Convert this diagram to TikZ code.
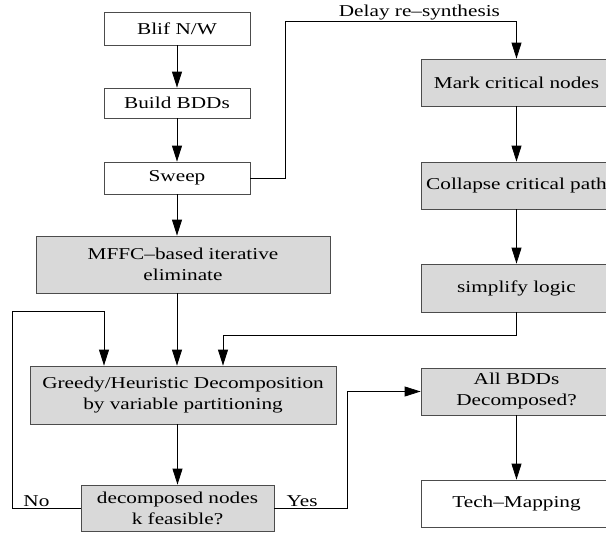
\documentclass[tikz,border=0pt]{standalone}
\usepackage{fontspec}
\setmainfont{Liberation Serif}[FakeStretch=1.28]
\usepackage{tikz}
\usetikzlibrary{arrows.meta,positioning,calc}

\begin{document}
\begin{tikzpicture}[
    x=1pt, y=-1pt,
    box/.style={rectangle, draw=black!70, line width=0.8pt, align=center, inner sep=1pt, fill=white, font=\fontsize{16.6}{21}\selectfont},
    greybox/.style={box, fill=black!15},
    arr/.style={-{Triangle[length=16pt,width=10pt]}, line width=0.8pt},
    lbl/.style={font=\fontsize{16.6}{21}\selectfont, inner sep=1pt},
]
\useasboundingbox (0,0) rectangle (606,533);
% Nodes
\node[box, minimum width=146pt, minimum height=33pt]      (blif)     at (177,28.5)  {Blif N/W};
\node[box, minimum width=146pt, minimum height=30pt]      (build)    at (177,103)   {Build BDDs};
\node[box, minimum width=146pt, minimum height=32pt]      (sweep)    at (177,178)   {Sweep};
\node[greybox, minimum width=294pt, minimum height=57pt]  (mffc)     at (183,264.5) {MFFC--based iterative\\eliminate};
\node[greybox, minimum width=306pt, minimum height=58pt]  (greedy)   at (183,395)   {Greedy/Heuristic Decomposition\\by variable partitioning};
\node[greybox, minimum width=193pt, minimum height=46pt]  (dec)      at (177.5,508) {decomposed nodes\\k feasible?};
\node[greybox, minimum width=191pt, minimum height=47pt]  (mark)     at (516.5,82.5) {Mark critical nodes};
\node[greybox, minimum width=191pt, minimum height=47pt]  (collapse) at (516.5,185.5) {Collapse critical path};
\node[greybox, minimum width=191pt, minimum height=48pt]  (simplify) at (516.5,288) {simplify logic};
\node[greybox, minimum width=191pt, minimum height=47pt]  (allbdd)   at (516.5,391.5) {All BDDs\\Decomposed?};
\node[box, minimum width=191pt, minimum height=47pt]      (tech)     at (516.5,503.5) {Tech--Mapping};
% Connections
\draw[arr] (blif) -- (build);
\draw[arr] (build) -- (sweep);
\draw[arr] (sweep) -- (mffc.north -| sweep);
\draw[arr] (mffc.south -| sweep) -- (greedy.north -| sweep);
\draw[arr] (greedy.south -| dec) -- (dec);
\draw[arr] (sweep.east) -- ++(35,0) -- ++(0,-157) -| node[above, lbl, pos=0.29]{Delay re--synthesis} (mark.north);
\draw[arr] (mark) -- (collapse);
\draw[arr] (collapse) -- (simplify);
\draw[arr] (allbdd) -- (tech);
\draw[arr] (simplify.south) -- ++(0,23) -| ($(greedy.north)+(40,0)$);
% No / Yes branches
\draw[arr] (dec.west) -- node[above, lbl, pos=0.65]{No} ++(-68,0) |- ($(greedy.north)+(-79,-54)$) -- ($(greedy.north)+(-79,0)$);
\draw[arr] (dec.east) -- node[above, lbl, pos=0.38]{Yes} ++(73,0) |- (allbdd.west);
\end{tikzpicture}
\end{document}
